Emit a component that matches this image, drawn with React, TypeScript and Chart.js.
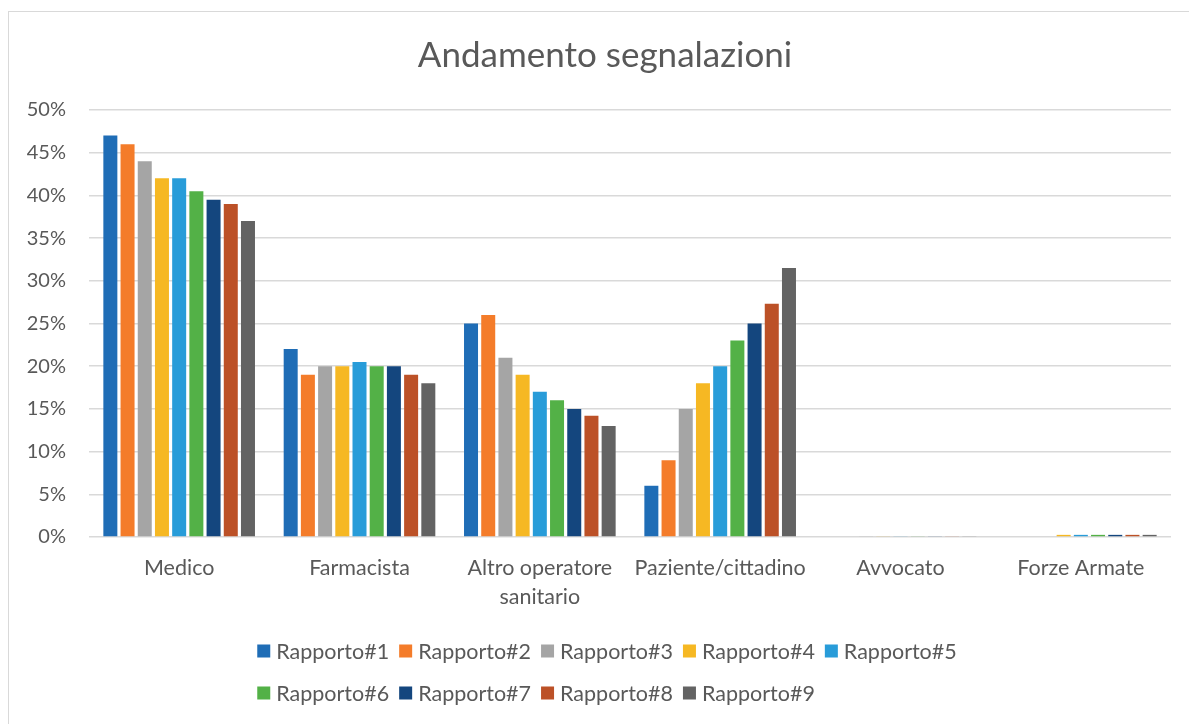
import React, { useEffect, useRef } from "react";
import { Chart, registerables } from "chart.js";

Chart.register(...registerables);

const categories: (string | string[])[] = [
  "Medico",
  "Farmacista",
  ["Altro operatore", "sanitario"],
  "Paziente/cittadino",
  "Avvocato",
  "Forze Armate",
];

const seriesLabels = [
  "Rapporto#1",
  "Rapporto#2",
  "Rapporto#3",
  "Rapporto#4",
  "Rapporto#5",
  "Rapporto#6",
  "Rapporto#7",
  "Rapporto#8",
  "Rapporto#9",
];

const rapporto1 = [47, 22, 25, 6, 0, 0];
const rapporto2 = [46, 19, 26, 9, 0, 0];
const rapporto3 = [44, 20, 21, 15, 0.1, 0];
const rapporto4 = [42, 20, 19, 18, 0.1, 0.25];
const rapporto5 = [42, 20.5, 17, 20, 0.1, 0.25];
const rapporto6 = [40.5, 20, 16, 23, 0.1, 0.25];
const rapporto7 = [39.5, 20, 15, 25, 0.1, 0.25];
const rapporto8 = [39, 19, 14.2, 27.3, 0.1, 0.25];
const rapporto9 = [37, 18, 13, 31.5, 0.1, 0.25];

const seriesValues = [
  rapporto1,
  rapporto2,
  rapporto3,
  rapporto4,
  rapporto5,
  rapporto6,
  rapporto7,
  rapporto8,
  rapporto9,
];

const seriesColors = [
  "#1F6DB6",
  "#F47C2A",
  "#A5A5A5",
  "#F6B823",
  "#289CD9",
  "#53B147",
  "#14467E",
  "#BC5127",
  "#636363",
];

const yTicks = [0, 5, 10, 15, 20, 25, 30, 35, 40, 45, 50];

const TEXT = "#595959";
const FONT = "Lato";

const gridLegend = {
  id: "gridLegend",
  afterDraw(chart: any) {
    const ctx = chart.ctx as CanvasRenderingContext2D;
    ctx.save();
    ctx.font = `21.5px ${FONT}`;
    const items = chart.data.datasets.map((d: any) => ({
      text: d.label as string,
      color: d.backgroundColor as string,
    }));
    const box = 13;
    const gap = 6;
    const colGap = 10;
    const maxText = Math.max(...items.map((i: any) => ctx.measureText(i.text).width));
    const colW = box + gap + maxText + colGap;
    const perRow = 5;
    const rowW = perRow * colW - colGap;
    const startX = chart.width / 2 - rowW / 2 + 2;
    const rowsY = [639, 681];
    ctx.textBaseline = "middle";
    ctx.textAlign = "left";
    items.forEach((it: any, i: number) => {
      const r = Math.floor(i / perRow);
      const c = i % perRow;
      const x = startX + c * colW;
      const y = rowsY[r];
      ctx.fillStyle = it.color;
      ctx.fillRect(x, y - box / 2, box, box);
      ctx.fillStyle = TEXT;
      ctx.fillText(it.text, x + box + gap, y + 1);
    });
    ctx.restore();
  },
};

export default function App() {
  const ref = useRef<HTMLCanvasElement | null>(null);

  useEffect(() => {
    if (!ref.current) return;
    const chart = new Chart(ref.current, {
      type: "bar",
      data: {
        labels: categories,
        datasets: seriesLabels.map((label, i) => ({
          label,
          data: seriesValues[i],
          backgroundColor: seriesColors[i],
          borderWidth: 0,
          categoryPercentage: 0.8586,
          barPercentage: 0.814,
        })),
      },
      options: {
        responsive: false,
        animation: false,
        maintainAspectRatio: false,
        layout: { padding: { left: 0, right: 0, top: 0, bottom: 0 } },
        plugins: {
          legend: { display: false },
          tooltip: { enabled: false },
          title: {
            display: true,
            text: "Andamento segnalazioni",
            color: TEXT,
            font: { family: FONT, size: 35, weight: "normal" },
            padding: { top: 23, bottom: 33 },
          },
        },
        scales: {
          x: {
            grid: { display: false, drawTicks: false },
            border: { display: false },
            ticks: {
              color: TEXT,
              font: { family: FONT, size: 21.5, lineHeight: 1.35 },
              padding: 16.5,
              maxRotation: 0,
              autoSkip: false,
            },
            afterFit: (scale: any) => {
              scale.height = 187;
            },
          },
          y: {
            min: 0,
            max: 50,
            afterBuildTicks: (scale: any) => {
              scale.ticks = yTicks.map((v) => ({ value: v }));
            },
            grid: { color: "#d9d9d9", lineWidth: 1.5, drawTicks: false },
            border: { display: false },
            ticks: {
              color: TEXT,
              font: { family: FONT, size: 20 },
              padding: 23,
              callback: (v: any) => `${v}%`,
            },
            afterFit: (scale: any) => {
              scale.width = 80;
            },
          },
          yRight: {
            position: "right",
            min: 0,
            max: 50,
            grid: { display: false, drawTicks: false },
            border: { display: false },
            ticks: { display: false },
            afterFit: (scale: any) => {
              scale.width = 30;
            },
          },
        },
      },
      plugins: [gridLegend],
    });
    return () => chart.destroy();
  }, []);

  return (
    <div
      style={{
        position: "absolute",
        left: 8,
        top: 11,
        width: 1181,
        height: 713,
        overflow: "hidden",
        borderLeft: "1px solid #d9d9d9",
        borderTop: "1px solid #d9d9d9",
        background: "#fff",
      }}
    >
      <canvas ref={ref} width={1192} height={712} style={{ display: "block" }} />
    </div>
  );
}
